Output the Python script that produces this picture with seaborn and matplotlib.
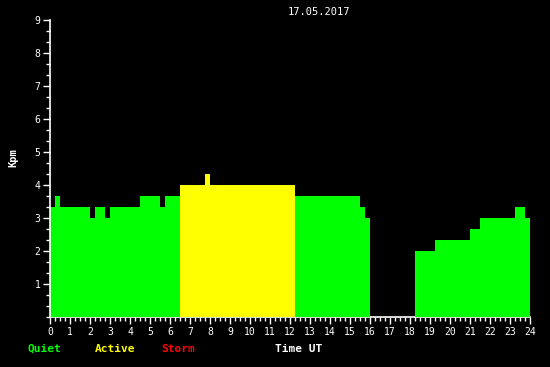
import matplotlib
matplotlib.use("Agg")
import matplotlib.pyplot as plt
import seaborn as sns
import pandas as pd
import numpy as np
from matplotlib.ticker import MultipleLocator

# segment data (hours UT)
seg_start = [0.0, 0.25, 0.5, 2.0, 2.25, 2.75, 3.0, 4.5, 5.5, 5.75, 6.5, 7.75, 8.0,
             12.25, 15.5, 15.75, 18.25, 19.25, 21.0, 21.5, 23.25, 23.75]
seg_end = [0.25, 0.5, 2.0, 2.25, 2.75, 3.0, 4.5, 5.5, 5.75, 6.5, 7.75, 8.0, 12.25,
           15.5, 15.75, 16.0, 19.25, 21.0, 21.5, 23.25, 23.75, 24.0]
kp_values = [3.33, 3.67, 3.33, 3.0, 3.33, 3.0, 3.33, 3.67, 3.33, 3.67, 4.0, 4.33, 4.0,
             3.67, 3.33, 3.0, 2.0, 2.33, 2.67, 3.0, 3.33, 3.0]
levels = ["Quiet", "Quiet", "Quiet", "Quiet", "Quiet", "Quiet", "Quiet", "Quiet", "Quiet", "Quiet",
          "Active", "Active", "Active",
          "Quiet", "Quiet", "Quiet", "Quiet", "Quiet", "Quiet", "Quiet", "Quiet", "Quiet"]
x_tick_labels = [str(i) for i in range(25)]
y_tick_labels = [str(i) for i in range(1, 10)]
date_label = "17.05.2017"

GREEN = "#00ff00"
YELLOW = "#ffff00"
RED = "#ff0000"

sns.set_style("dark", {"axes.facecolor": "black", "figure.facecolor": "black"})
plt.rcParams['font.family'] = ['DejaVu Sans Mono', 'DejaVu Sans']

df = pd.DataFrame({"start": seg_start, "end": seg_end, "kp": kp_values, "level": levels})
edges = sorted(set(seg_start) | set(seg_end) | {16.0, 18.25})

fig = plt.figure(figsize=(5.5, 3.67), dpi=100, facecolor="black")
ax = fig.add_axes([50/550, 50/367, 480/550, 297/367])
ax.set_facecolor("black")

sns.histplot(data=df, x="start", weights="kp", hue="level", bins=edges,
             multiple="layer", palette={"Quiet": GREEN, "Active": YELLOW},
             hue_order=["Quiet", "Active"], alpha=1.0, linewidth=0,
             legend=False, ax=ax)

ax.set_xlim(0, 24)
ax.set_ylim(0, 9)
ax.set_xlabel("")
ax.set_ylabel("")
ax.grid(False)
for s in ["top", "right"]:
    ax.spines[s].set_visible(False)
for s in ["left", "bottom"]:
    ax.spines[s].set_visible(True)
    ax.spines[s].set_color("white")
    ax.spines[s].set_linewidth(1.2)
ax.spines["bottom"].set_zorder(0)

ax.set_xticks(range(25))
ax.set_xticklabels(x_tick_labels)
ax.set_yticks(range(1, 10))
ax.set_yticklabels(y_tick_labels)
ax.xaxis.set_minor_locator(MultipleLocator(0.25))
ax.yaxis.set_minor_locator(MultipleLocator(1/3))
ax.tick_params(axis="both", which="major", direction="out", length=5, width=1,
               color="white", labelcolor="white", labelsize=7, pad=2,
               bottom=True, left=True)
ax.tick_params(axis="both", which="minor", direction="out", length=3, width=1,
               color="white", bottom=True, left=True)

fig.text(319/550, 1 - 12/367, date_label, color="white", fontsize=7.5,
         ha="center", va="center")
fig.text(13/550, 1 - 158/367, "Kpm", color="white", fontsize=7.5, fontweight="bold",
         rotation=90, ha="center", va="center")
fig.text(28/550, 1 - 349/367, "Quiet", color=GREEN, fontsize=8, fontweight="bold",
         ha="left", va="center")
fig.text(95/550, 1 - 349/367, "Active", color=YELLOW, fontsize=8, fontweight="bold",
         ha="left", va="center")
fig.text(161/550, 1 - 349/367, "Storm", color=RED, fontsize=8, fontweight="bold",
         ha="left", va="center")
fig.text(275/550, 1 - 349/367, "Time UT", color="white", fontsize=8, fontweight="bold",
         ha="left", va="center")

fig.savefig("out.png", dpi=100, facecolor="black")
